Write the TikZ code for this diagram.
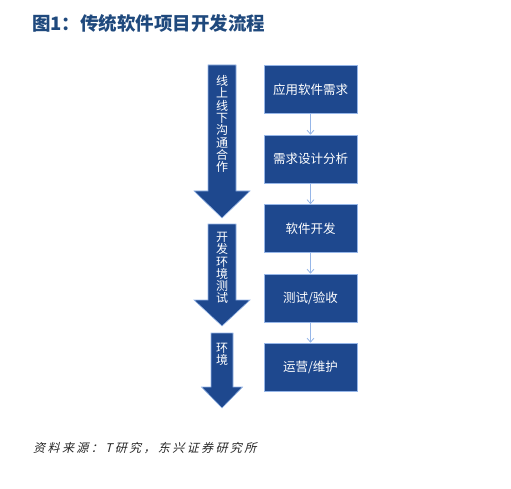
\documentclass[tikz,border=0pt]{standalone}
\usepackage{fontspec}
\setmainfont{Noto Sans CJK SC}
\newfontfamily\srcfont{Noto Sans CJK SC}[FakeSlant=0.25,LetterSpace=20]
\usetikzlibrary{arrows.meta}
\definecolor{flowblue}{RGB}{30,72,142}
\definecolor{edgeblue}{RGB}{150,182,232}
\definecolor{titleblue}{RGB}{31,73,125}

\begin{document}
\begin{tikzpicture}[x=1pt,y=-1pt,
  stagebox/.style={draw=edgeblue,line width=0.6pt,fill=flowblue,text=white,
    minimum width=93pt,minimum height=48pt,inner sep=0pt,font=\fontsize{12.5}{14}\selectfont},
  link/.style={-{Straight Barb[length=4pt,width=7pt]},edgeblue,line width=0.8pt},
  bigarrow/.style={fill=flowblue,draw=edgeblue,line width=0.6pt},
  vtext/.style={text=white,align=center,inner sep=0pt,font=\fontsize{12}{12.3}\selectfont}]
\useasboundingbox (0,0) rectangle (511,489);
% ---------- title ----------
\node[anchor=west,text=titleblue,inner sep=0pt,font=\fontsize{18.5}{20}\selectfont\bfseries] (title) at (32,23)
  {图1：传统软件项目开发流程};
% ---------- stages ----------
\foreach \n/\y/\txt in {s1/89.5/应用软件需求, s2/159/需求设计分析, s3/228.5/软件开发,
                        s4/298/{测试/验收}, s5/367/{运营/维护}}{
  \node[stagebox] (\n) at (310.5,\y) {\txt};
}
\foreach \a/\b in {s1/s2, s2/s3, s3/s4, s4/s5}{
  \draw[link] (\a) -- (\b);
}
% ---------- environment arrows ----------
\foreach \top/\hd/\tip/\sw/\hw in {65/191/218/14/28, 224/300/326/14/28, 333/387/408/11/20.5}{
  \draw[bigarrow] (222-\sw,\top) -- (222+\sw,\top) -- (222+\sw,\hd) -- (222+\hw,\hd)
    -- (222,\tip) -- (222-\hw,\hd) -- (222-\sw,\hd) -- cycle;
}
\node[vtext] (env1) at (222,124) {线\\上\\线\\下\\沟\\通\\合\\作};
\node[vtext] (env2) at (222,268) {开\\发\\环\\境\\测\\试};
\node[vtext] (env3) at (222,354.5) {环\\境};
% ---------- source ----------
\node[anchor=west,inner sep=0pt,text=black!85,font=\srcfont\fontsize{12}{14}\selectfont] (source) at (33,448)
  {资料来源：T研究，东兴证券研究所};
\end{tikzpicture}
\end{document}
